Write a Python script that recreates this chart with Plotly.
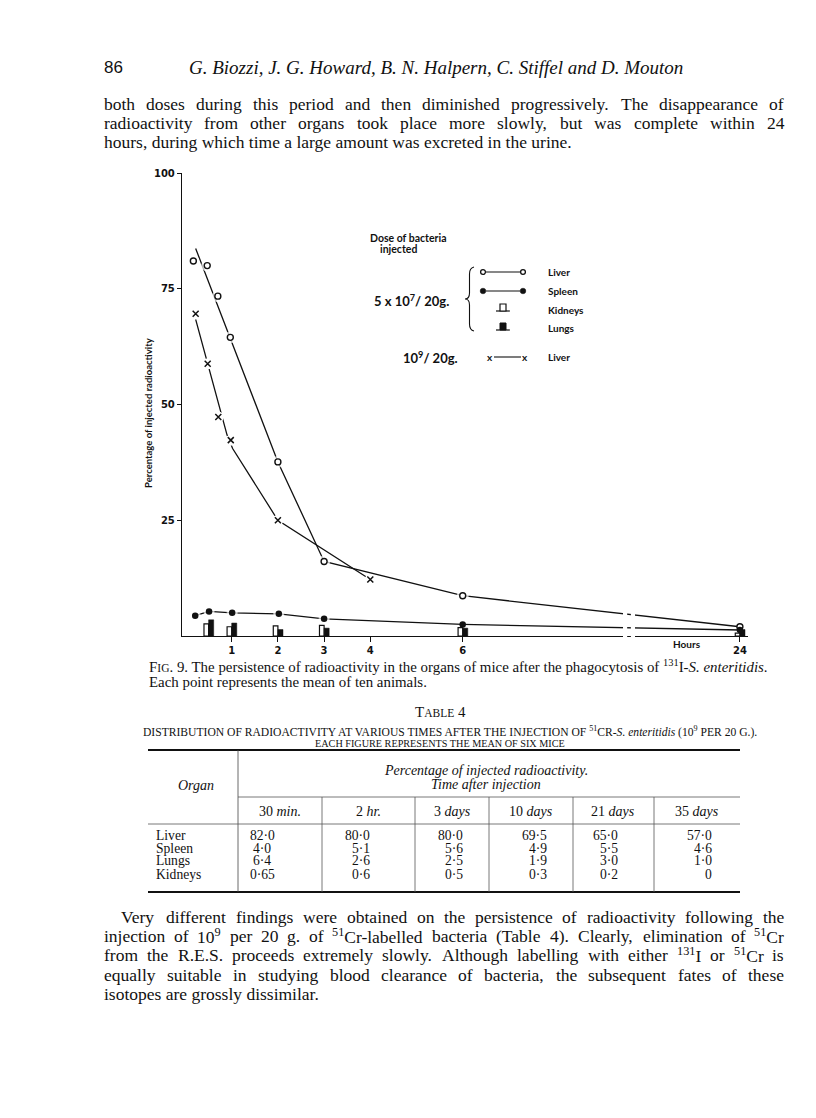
import re
import plotly.graph_objects as go

# ------------------------------------------------------------------ data
# 5 x 10^7 / 20 g dose
liver_hours = [0.17, 0.47, 0.7, 0.97, 2, 3, 6, 24]
liver_pct = [81.0, 80.0, 73.4, 64.5, 37.6, 16.1, 8.7, 2.0]
liver_fit_hours = [0.22, 2, 3, 6, 24]
liver_fit_pct = [83.7, 37.6, 16.1, 8.7, 2.0]

spleen_hours = [0.21, 0.51, 1.01, 2.02, 3, 6, 24]
spleen_pct = [4.4, 5.3, 5.0, 4.8, 3.7, 2.5, 1.3]

bar_hours = [0.5, 1, 2, 3, 6, 24]
kidneys_pct = [2.6, 2.0, 2.2, 2.3, 1.8, 0.6]
lungs_pct = [3.5, 2.8, 1.4, 1.7, 1.7, 1.4]

# 10^9 / 20 g dose
liver_hi_hours = [0.22, 0.48, 0.71, 0.98, 2, 4]
liver_hi_pct = [69.6, 58.8, 47.3, 42.3, 25.0, 12.2]
liver_hi_fit_hours = [0.22, 0.9, 1.02, 2, 4]
liver_hi_fit_pct = [68.4, 43.4, 40.5, 25.0, 12.2]

x_tick_hours = [1, 2, 3, 4, 6, 24]
x_tick_text = ["1", "2", "3", "4", "6", "24"]
y_tick_vals = [25, 50, 75, 100]
y_tick_text = ["25", "50", "75", "100"]

# Table 4
table_times = ["30 <i>min.</i>", "2 <i>hr.</i>", "3 <i>days</i>", "10 <i>days</i>",
               "21 <i>days</i>", "35 <i>days</i>"]
table_organs = ["Liver", "Spleen", "Lungs", "Kidneys"]
table_liver = ["82·0", "80·0", "80·0", "69·5", "65·0", "57·0"]
table_spleen = ["4·0", "5·1", "5·6", "4·9", "5·5", "4·6"]
table_lungs = ["6·4", "2·6", "2·5", "1·9", "3·0", "1·0"]
table_kidneys = ["0·65", "0·6", "0·5", "0·3", "0·2", "0"]

# ------------------------------------------------------------------ broken hour axis
BREAK_AT = 9.0
COMPRESS = 0.2


def axis_pos(h):
    return h if h <= BREAK_AT else BREAK_AT + (h - BREAK_AT) * COMPRESS


def P(hours):
    return [axis_pos(h) for h in hours]


# ------------------------------------------------------------------ page geometry
W, H = 816, 1118
L, R, T, B = 182, 748, 173, 636
SERIF = "Liberation Serif"
SANS = "Lato"
AXF = "DejaVu Sans"
INK = "#111111"


def X(px):
    return (px - L) / (R - L)


def Y(py):
    return (B - py) / (B - T)


ann = []
shp = []


def txt(s, x, y, size, family=SERIF, anchor="left", angle=0, weight="normal"):
    ann.append(dict(text=s, x=X(x), y=Y(y), xref="paper", yref="paper",
                    xanchor=anchor, yanchor="middle", showarrow=False,
                    textangle=angle, borderpad=0,
                    font=dict(family=family, size=size, color=INK, weight=weight)))


def hline(x0, x1, y, w=1.0, color=INK):
    shp.append(dict(type="line", xref="paper", yref="paper", x0=X(x0), x1=X(x1),
                    y0=Y(y), y1=Y(y), line=dict(color=color, width=w)))


def vline(x, y0, y1, w=1.0, color=INK):
    shp.append(dict(type="line", xref="paper", yref="paper", x0=X(x), x1=X(x),
                    y0=Y(y0), y1=Y(y1), line=dict(color=color, width=w)))


# Times New Roman advance widths (Liberation Serif is metric compatible), per 1000 em
_TNR = {" ": 250, "(": 333, ")": 333, ",": 250, "-": 333, ".": 250, "·": 250}
_TNR.update({d: 500 for d in "0123456789"})
_TNR.update(dict(zip("ABCDEFGHIJKLMNOPQRSTUVWXYZ",
                     [722, 667, 667, 722, 611, 556, 722, 722, 333, 389, 722, 611, 889,
                      722, 722, 556, 722, 667, 556, 611, 722, 722, 944, 722, 722, 611])))
_TNR.update(dict(zip("abcdefghijklmnopqrstuvwxyz",
                     [444, 500, 444, 500, 444, 333, 500, 500, 278, 278, 500, 278, 778,
                      500, 500, 500, 500, 333, 389, 278, 500, 500, 722, 500, 500, 444])))


def word_width(word, size):
    total = 0.0
    for part, is_sup in [(p, i % 2 == 1) for i, p in enumerate(re.split(r"</?sup>", word))]:
        f = 0.7 if is_sup else 1.0
        total += sum(_TNR.get(c, 500) for c in part) * f
    return total * size / 1000.0


def justify(line, x0, x1, y, size):
    words = line.split()
    widths = [word_width(w, size) for w in words]
    gap = (x1 - x0 - sum(widths)) / (len(words) - 1)
    x = x0
    for w, wd in zip(words, widths):
        txt(w, x, y, size)
        x += wd + gap


fig = go.Figure()

LW = 1.3
# fitted lines
fig.add_trace(go.Scatter(x=P(liver_fit_hours), y=liver_fit_pct, mode="lines",
                         line=dict(color=INK, width=LW), hoverinfo="skip"))
fig.add_trace(go.Scatter(x=P(liver_hi_fit_hours), y=liver_hi_fit_pct, mode="lines",
                         line=dict(color=INK, width=LW), hoverinfo="skip"))
fig.add_trace(go.Scatter(x=P(spleen_hours), y=spleen_pct, mode="lines",
                         line=dict(color=INK, width=LW), hoverinfo="skip"))

# bars
fig.add_trace(go.Bar(x=P(bar_hours), y=kidneys_pct, width=0.1, offset=-0.1,
                     marker=dict(color="white", line=dict(color=INK, width=1.2))))
fig.add_trace(go.Bar(x=P(bar_hours), y=lungs_pct, width=0.11, offset=0.0,
                     marker=dict(color=INK, line=dict(color=INK, width=0.5))))

# white halos that break the lines around the points
fig.add_trace(go.Scatter(x=P(liver_hours), y=liver_pct, mode="markers",
                         marker=dict(color="white", size=[11 if v > 5 else 0 for v in liver_pct]),
                         hoverinfo="skip"))
fig.add_trace(go.Scatter(x=P(liver_hi_hours), y=liver_hi_pct, mode="markers",
                         marker=dict(color="white", size=11), hoverinfo="skip"))
fig.add_trace(go.Scatter(x=P(spleen_hours), y=spleen_pct, mode="markers",
                         marker=dict(color="white", size=[10 if h <= 3 else 0 for h in spleen_hours]),
                         hoverinfo="skip"))

# points
fig.add_trace(go.Scatter(x=P(liver_hours), y=liver_pct, mode="markers",
                         marker=dict(symbol="circle", size=6, color="white",
                                     line=dict(color=INK, width=1.4))))
fig.add_trace(go.Scatter(x=P(spleen_hours), y=spleen_pct, mode="markers",
                         marker=dict(symbol="circle", size=6.5, color=INK)))
fig.add_trace(go.Scatter(x=P(liver_hi_hours), y=liver_hi_pct, mode="markers",
                         marker=dict(symbol="x-thin-open", size=6, color=INK,
                                     line=dict(color=INK, width=1.5))))

# axis break (gap - dash - gap) on the long 6 -> 24 h stretch
for g0, g1 in [(9.47, 9.56), (9.64, 9.73)]:
    shp.append(dict(type="rect", xref="x", yref="paper", x0=g0, x1=g1, y0=-0.02, y1=0.1,
                    fillcolor="white", line=dict(width=0), layer="above"))

# ------------------------------------------------------------------ chart labels
txt("Percentage of injected radioactivity", 148, 413, 9.5, SANS, "center", -90, "bold")
txt("Hours", 687, 644, 10, SANS, "center", weight="bold")

# legend
txt("Dose of bacteria", 369, 238, 10.5, SANS, weight="bold")
txt("injected", 379, 249, 10.5, SANS, weight="bold")
txt("5 x 10<sup>7</sup>/ 20g.", 373, 300, 13, SANS, weight="bold")
txt("10<sup>9</sup>/ 20g.", 402, 357, 13, SANS, weight="bold")
# brace
bp = ("M {a},{b} Q {c},{d} {c},{e} L {c},{f} Q {c},{g} {h},{g} Q {c},{g} {c},{i} "
      "L {c},{j} Q {c},{k} {a},{l}").format(
    a=X(474), b=Y(267), c=X(469.5), d=Y(268), e=Y(274), f=Y(293), g=Y(299), h=X(465),
    i=Y(305), j=Y(324), k=Y(330), l=Y(331))
shp.append(dict(type="path", xref="paper", yref="paper", path=bp,
                line=dict(color=INK, width=1.1)))
# o---o liver
hline(486, 520, 272, 1.1)
for cx in (483, 523):
    shp.append(dict(type="circle", xref="paper", yref="paper", x0=X(cx - 2.4), x1=X(cx + 2.4),
                    y0=Y(272 + 2.4), y1=Y(272 - 2.4), line=dict(color=INK, width=1.3),
                    fillcolor="white"))
txt("Liver", 547, 272, 10, SANS, weight="bold")
# *---* spleen
hline(486, 520, 291, 1.1)
for cx in (483, 523):
    shp.append(dict(type="circle", xref="paper", yref="paper", x0=X(cx - 2.8), x1=X(cx + 2.8),
                    y0=Y(291 + 2.8), y1=Y(291 - 2.8), line=dict(color=INK, width=0.5),
                    fillcolor=INK))
txt("Spleen", 547, 291, 10, SANS, weight="bold")
# kidneys icon
hline(496, 510, 311, 1.2)
shp.append(dict(type="rect", xref="paper", yref="paper", x0=X(500), x1=X(506),
                y0=Y(311), y1=Y(304), line=dict(color=INK, width=1.2), fillcolor="white"))
txt("Kidneys", 547, 310, 10, SANS, weight="bold")
# lungs icon
hline(496, 510, 330, 1.2)
shp.append(dict(type="rect", xref="paper", yref="paper", x0=X(500), x1=X(506),
                y0=Y(330), y1=Y(323), line=dict(color=INK, width=1), fillcolor=INK))
txt("Lungs", 547, 328, 10, SANS, weight="bold")
# x---x liver (high dose)
hline(494, 521, 357, 1.1)
txt("x", 490, 357, 10, SANS, "center", weight="bold")
txt("x", 525, 357, 10, SANS, "center", weight="bold")
txt("Liver", 547, 357, 10, SANS, weight="bold")

# ------------------------------------------------------------------ page text
BODY = 17.5
txt("86", 103, 67, 17, "Liberation Sans")
txt("<i>G. Biozzi, J. G. Howard, B. N. Halpern, C. Stiffel and D. Mouton</i>", 188, 67, 19)
body_top = [
    "both doses during this period and then diminished progressively.  The disappearance of",
    "radioactivity from other organs took place more slowly, but was complete within 24",
    "hours, during which time a large amount was excreted in the urine.",
]
for i, line in enumerate(body_top):
    if i < len(body_top) - 1:
        justify(line, 103, 783, 104 + 19 * i, BODY)
    else:
        txt(line, 103, 104 + 19 * i, BODY)

txt("F<span style='font-size:11.5px'>IG</span>. 9. The persistence of radioactivity in the organs "
    "of mice after the phagocytosis of <sup>131</sup>I-<i>S. enteritidis</i>.", 148, 666, 14.9)
txt("Each point represents the mean of ten animals.", 148, 682, 14.9)

txt("T<span style='font-size:11.5px'>ABLE</span> 4", 440, 712, 15, anchor="center")
txt("DISTRIBUTION OF RADIOACTIVITY AT VARIOUS TIMES AFTER THE INJECTION OF "
    "<sup>51</sup>CR-<i>S. enteritidis</i> (10<sup>9</sup> PER 20 G.).", 450, 731, 11.6, anchor="center")
txt("EACH FIGURE REPRESENTS THE MEAN OF SIX MICE", 440, 743, 10.2, anchor="center")

# table
TF = 13.6
hline(148, 740, 750, 2.0)
hline(148, 740, 892, 2.0)
vline(238, 750, 892, 0.8, "#444444")
hline(238, 740, 797, 0.8, "#555555")
hline(148, 740, 824, 0.8, "#555555")
for sx in [322, 415, 489, 573, 654]:
    vline(sx, 797, 892, 0.8, "#555555")
txt("<i>Organ</i>", 196, 785, 14, anchor="center")
txt("<i>Percentage of injected radioactivity.</i>", 486, 770, 14, anchor="center")
txt("<i>Time after injection</i>", 486, 784, 14, anchor="center")
col_centers = [280, 368, 452, 531, 613, 697]
val_x = [262, 371, 464, 548, 619, 713]
val_anchor = ["center", "right", "right", "right", "right", "right"]
for cx, t in zip(col_centers, table_times):
    txt(t, cx, 811, 14, anchor="center")
row_y = [835, 848, 861, 874]
for ry, organ, vals in zip(row_y, table_organs,
                           [table_liver, table_spleen, table_lungs, table_kidneys]):
    txt(organ, 155, ry, TF)
    for k, v in enumerate(vals):
        txt(v, val_x[k], ry, TF, anchor=val_anchor[k])

body_bottom = [
    "Very different findings were obtained on the persistence of radioactivity following the",
    "injection of 10<sup>9</sup> per 20 g. of <sup>51</sup>Cr-labelled bacteria (Table 4). "
    "Clearly, elimination of <sup>51</sup>Cr",
    "from the R.E.S. proceeds extremely slowly. Although labelling with either <sup>131</sup>I "
    "or <sup>51</sup>Cr is",
    "equally suitable in studying blood clearance of bacteria, the subsequent fates of these",
    "isotopes are grossly dissimilar.",
]
for i, line in enumerate(body_bottom):
    y = 917 + 19.2 * i
    x0 = 120 if i == 0 else 103
    if i < len(body_bottom) - 1:
        justify(line, x0, 783, y, BODY)
    else:
        txt(line, x0, y, BODY)

# ------------------------------------------------------------------ layout
fig.update_layout(
    width=W, height=H,
    margin=dict(l=L, r=W - R, t=T, b=H - B, pad=0),
    paper_bgcolor="white", plot_bgcolor="white",
    showlegend=False, barmode="overlay", hovermode=False,
    annotations=ann, shapes=shp,
    xaxis=dict(range=[(L - 185.5) / 46.2, (R - 185.5) / 46.2],
               tickvals=P(x_tick_hours), ticktext=x_tick_text,
               showgrid=False, zeroline=False, showline=True, linecolor=INK, linewidth=1.4,
               ticks="outside", ticklen=5, tickwidth=1.3, tickcolor=INK,
               tickfont=dict(family=AXF, size=10, color=INK, weight="bold")),
    yaxis=dict(range=[0, 100], tickvals=y_tick_vals, ticktext=y_tick_text,
               showgrid=False, zeroline=False, showline=True, linecolor=INK, linewidth=1.4,
               ticks="outside", ticklen=4, tickwidth=1.3, tickcolor=INK,
               tickfont=dict(family=AXF, size=10, color=INK, weight="bold")),
)

fig.write_html("out.html", config={"displayModeBar": False},
               post_script="document.body.style.margin='0px';")
